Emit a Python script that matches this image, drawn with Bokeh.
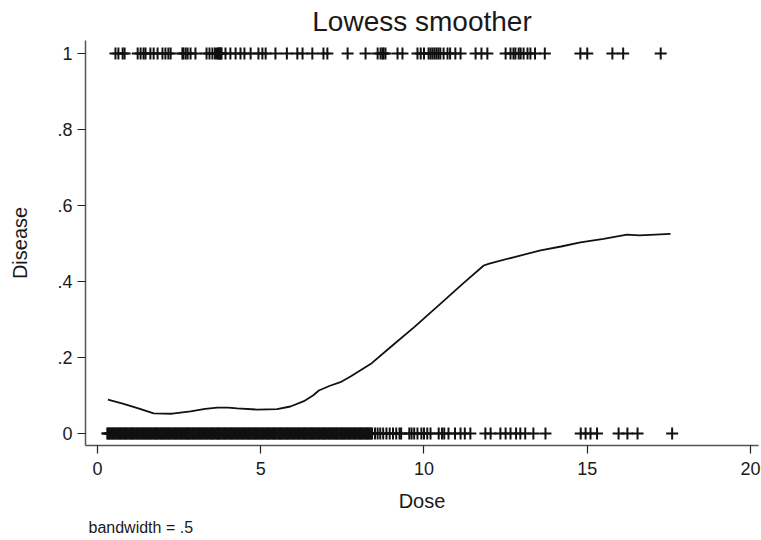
from bokeh.plotting import figure
from bokeh.models import Range1d, FixedTicker, Title
from bokeh.embed import file_html
from bokeh.resources import INLINE

# ---- data ----
dose_disease1 = [0.55, 0.64, 0.77, 0.83, 1.23, 1.32, 1.41, 1.47, 1.62, 1.72, 1.84, 1.99,
                 2.08, 2.17, 2.24, 2.60, 2.63, 2.70, 2.76, 2.85, 3.00, 3.34, 3.43, 3.52,
                 3.60, 3.66, 3.70, 3.72, 3.75, 3.78, 3.80, 3.92, 4.07, 4.23, 4.38, 4.50,
                 4.69, 4.93, 5.05, 5.15, 5.45, 5.80, 6.12, 6.28, 6.58, 6.92, 7.04, 7.66,
                 8.21, 8.58, 8.67, 8.73, 8.76, 8.82, 9.19, 9.34, 9.80, 9.90, 10.00, 10.14,
                 10.20, 10.26, 10.32, 10.38, 10.44, 10.50, 10.60, 10.72, 10.80, 10.96,
                 11.12, 11.58, 11.76, 11.94, 12.50, 12.65, 12.74, 12.80, 12.90, 12.96,
                 13.05, 13.17, 13.26, 13.40, 13.70, 14.79, 15.00, 15.77, 16.10, 17.25]

dose_disease0 = [0.30, 0.36, 0.43, 0.49, 0.55, 0.62, 0.68, 0.74, 0.81, 0.87, 0.93, 1.00,
                 1.06, 1.12, 1.19, 1.25, 1.31, 1.38, 1.44, 1.50, 1.57, 1.63, 1.69, 1.76,
                 1.82, 1.88, 1.95, 2.01, 2.07, 2.14, 2.20, 2.26, 2.33, 2.39, 2.45, 2.52,
                 2.58, 2.64, 2.71, 2.77, 2.83, 2.90, 2.96, 3.02, 3.09, 3.15, 3.21, 3.28,
                 3.34, 3.40, 3.47, 3.53, 3.59, 3.66, 3.72, 3.78, 3.85, 3.91, 3.97, 4.04,
                 4.10, 4.16, 4.23, 4.29, 4.35, 4.42, 4.48, 4.54, 4.61, 4.67, 4.73, 4.80,
                 4.86, 4.92, 4.99, 5.05, 5.11, 5.18, 5.24, 5.30, 5.37, 5.43, 5.49, 5.56,
                 5.62, 5.68, 5.75, 5.81, 5.87, 5.94, 6.00, 6.06, 6.13, 6.19, 6.25, 6.32,
                 6.38, 6.44, 6.51, 6.57, 6.63, 6.70, 6.76, 6.82, 6.89, 6.95, 7.01, 7.08,
                 7.14, 7.20, 7.27, 7.33, 7.39, 7.46, 7.52, 7.58, 7.65, 7.71, 7.77, 7.84,
                 7.90, 7.96, 8.03, 8.09, 8.15, 8.22, 8.28, 8.34, 8.41,
                 0.33, 0.39, 0.46, 0.52, 0.58, 0.65, 0.71, 0.77, 0.84, 0.90, 0.97, 1.03,
                 1.09, 1.16, 1.22, 1.28, 1.35, 1.41, 1.47, 1.54, 1.60, 1.66, 1.73, 1.79,
                 1.85, 1.92, 1.98, 2.04, 2.11, 2.17, 2.23, 2.30, 2.36, 2.42, 2.49, 2.55,
                 2.61, 2.68, 2.74, 2.80, 2.87, 2.93, 2.99, 3.06, 3.12, 3.18, 3.25, 3.31,
                 3.37, 3.44, 3.50, 3.56, 3.63, 3.69, 3.75, 3.82, 3.88, 3.94, 4.01, 4.07,
                 4.13, 4.20, 4.26, 4.32, 4.39, 4.45, 4.51, 4.58, 4.64, 4.70, 4.77, 4.83,
                 4.89, 4.96, 5.02, 5.08, 5.15, 5.21, 5.27, 5.34, 5.40, 5.46, 5.53, 5.59,
                 5.65, 5.72, 5.78, 5.84, 5.91, 5.97, 6.03, 6.10, 6.16, 6.22, 6.29, 6.35,
                 6.41, 6.48, 6.54, 6.60, 6.67, 6.73, 6.79, 6.86, 6.92, 6.98, 7.05, 7.11,
                 7.17, 7.24, 7.30, 7.36, 7.43, 7.49, 7.55, 7.62, 7.68, 7.74, 7.81, 7.87,
                 7.93, 8.00, 8.06, 8.12, 8.19, 8.25, 8.31, 8.38,
                 8.50, 8.58, 8.66, 8.75, 8.85, 8.95, 9.05, 9.15, 9.25, 9.30,
                 9.55, 9.62, 9.70, 9.80, 9.92, 10.00, 10.10, 10.20,
                 10.45, 10.55, 10.62, 10.75, 10.95, 11.12, 11.25, 11.42,
                 11.88, 12.04, 12.34, 12.50, 12.65, 12.82, 12.95, 13.10, 13.35,
                 13.72, 14.80, 14.95, 15.10, 15.30, 15.96, 16.23, 16.54, 17.60]

lowess_x = [0.32, 0.80, 1.30, 1.72, 2.29, 2.85, 3.30, 3.67, 4.00, 4.28, 4.89, 5.50,
            5.91, 6.32, 6.60, 6.78, 7.10, 7.44, 7.75, 8.40, 8.97, 9.70, 10.50, 11.20,
            11.83, 12.00, 12.80, 13.57, 14.20, 14.79, 15.50, 16.22, 16.60, 17.55]
lowess_y = [0.089, 0.078, 0.065, 0.053, 0.052, 0.058, 0.065, 0.068, 0.068, 0.066, 0.063, 0.064,
            0.071, 0.085, 0.100, 0.113, 0.125, 0.135, 0.150, 0.185, 0.227, 0.280, 0.341, 0.395,
            0.442, 0.447, 0.465, 0.482, 0.492, 0.503, 0.512, 0.523, 0.521, 0.525]

x_ticks = [0, 5, 10, 15, 20]
y_ticks = [0, 0.2, 0.4, 0.6, 0.8, 1]
y_tick_labels = ["0", ".2", ".4", ".6", ".8", "1"]

FONT = "Liberation Sans"
TXT = "#1a1a1a"

p = figure(width=761, height=540, output_backend="svg", toolbar_location=None,
           x_range=Range1d(-0.3675, 20.245), y_range=Range1d(-0.0316, 1.034),
           min_border_left=85, min_border_right=3, min_border_top=40, min_border_bottom=95,
           title="Lowess smoother")
p.outline_line_color = None
p.grid.visible = False
p.background_fill_color = "white"
p.border_fill_color = "white"

p.title.text_font = FONT
p.title.text_font_size = "28px"
p.title.text_font_style = "normal"
p.title.text_color = TXT
p.title.align = "center"
p.title.standoff = 7

for ax in (p.xaxis[0], p.yaxis[0]):
    ax.axis_line_color = "#555555"
    ax.axis_line_width = 1.5
    ax.major_tick_line_color = "#222222"
    ax.major_tick_line_width = 1.2
    ax.major_tick_out = 8
    ax.major_tick_in = 0
    ax.minor_tick_line_color = None
    ax.major_label_text_font = FONT
    ax.major_label_text_font_size = "18px"
    ax.major_label_text_color = TXT
    ax.axis_label_text_font = FONT
    ax.axis_label_text_font_size = "20px"
    ax.axis_label_text_font_style = "normal"
    ax.axis_label_text_color = TXT

p.xaxis.ticker = FixedTicker(ticks=x_ticks)
p.xaxis.axis_label = "Dose"
p.xaxis.major_label_standoff = 8
p.xaxis.axis_label_standoff = 12

p.yaxis.ticker = FixedTicker(ticks=y_ticks)
p.yaxis.major_label_overrides = dict(zip(y_ticks, y_tick_labels))
p.yaxis.major_label_orientation = "horizontal"
p.yaxis.axis_label = "Disease"
p.yaxis.major_label_standoff = 5
p.yaxis.axis_label_standoff = 23

p.scatter(dose_disease1, [1] * len(dose_disease1), marker="cross", size=12,
          line_color="#111111", line_width=2)
p.scatter(dose_disease0, [0] * len(dose_disease0), marker="cross", size=12,
          line_color="#111111", line_width=2)
p.line(lowess_x, lowess_y, line_color="#111111", line_width=1.8)

cap = Title(text="bandwidth = .5", text_font=FONT, text_font_size="16px",
            text_font_style="normal", text_color=TXT, align="left", offset=3,
            standoff=4)
p.add_layout(cap, "below")

open("out.html", "w").write(file_html(p, INLINE))
